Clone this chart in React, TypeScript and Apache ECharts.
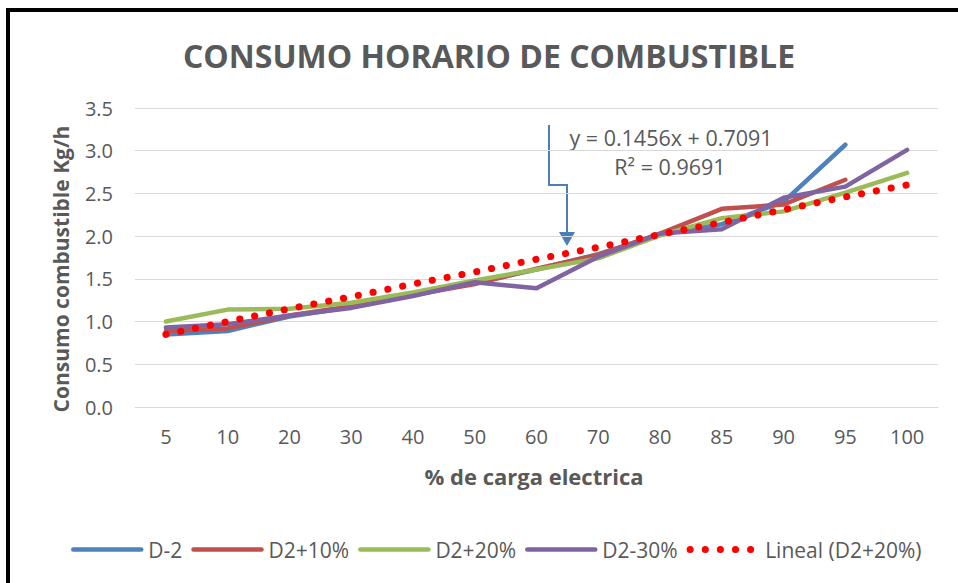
import React, { useEffect, useRef } from "react";
import * as echarts from "echarts";

const categories = ["5", "10", "20", "30", "40", "50", "60", "70", "80", "85", "90", "95", "100"];
const d2 = [0.85, 0.89, 1.06, 1.17, 1.31, 1.45, 1.61, 1.79, 2.02, 2.14, 2.4, 3.07];
const d2p10 = [0.89, 0.92, 1.07, 1.18, 1.31, 1.44, 1.62, 1.78, 2.03, 2.32, 2.37, 2.66];
const d2p20 = [1.0, 1.14, 1.15, 1.22, 1.34, 1.48, 1.61, 1.74, 2.01, 2.21, 2.29, 2.51, 2.74];
const d2m30 = [0.93, 0.97, 1.07, 1.16, 1.3, 1.46, 1.39, 1.76, 2.03, 2.08, 2.45, 2.58, 3.01];
const lineal = [0.85, 1.0, 1.15, 1.29, 1.44, 1.58, 1.73, 1.87, 2.02, 2.16, 2.31, 2.46, 2.6];
const seriesNames = ["D-2", "D2+10%", "D2+20%", "D2-30%", "Lineal (D2+20%)"];
const colors = ["#4F81BD", "#C0504D", "#9BBB59", "#8064A2", "#FF0000"];

const FONT = "'Open Sans', sans-serif";
const GRAY = "#595959";

export default function App() {
  const ref = useRef<HTMLDivElement>(null);
  useEffect(() => {
    if (!ref.current) return;
    const chart = echarts.init(ref.current, null, { renderer: "svg" });
    const datasets = [d2, d2p10, d2p20, d2m30];
    const lineSeries = datasets.map((d, i) => ({
      name: seriesNames[i],
      type: "line",
      data: d,
      symbol: "none",
      lineStyle: { color: colors[i], width: 4.5, cap: "round", join: "round" },
      itemStyle: { color: colors[i] },
      z: 2 + i,
    }));
    chart.setOption({
      animation: false,
      textStyle: { fontFamily: FONT },
      grid: { left: 135, right: 20, top: 108, bottom: 176, containLabel: false },
      legend: {
        left: 66,
        top: 534,
        itemWidth: 68,
        itemHeight: 14,
        itemGap: 9,
        itemStyle: { opacity: 0 },
        lineStyle: { width: "inherit", type: "inherit", cap: "inherit" },
        textStyle: { fontSize: 21, color: GRAY, fontFamily: FONT, padding: [0, 0, 0, 2] },
        data: seriesNames,
      },
      xAxis: {
        type: "category",
        data: categories,
        boundaryGap: true,
        axisLine: { lineStyle: { color: "#D9D9D9", width: 1 } },
        axisTick: { show: false },
        axisLabel: { fontSize: 20, color: GRAY, margin: 19, fontFamily: FONT },
      },
      yAxis: {
        type: "value",
        min: 0,
        max: 3.5,
        interval: 0.5,
        axisLine: { show: false },
        axisTick: { show: false },
        splitLine: { lineStyle: { color: "#D9D9D9", width: 1 } },
        axisLabel: {
          fontSize: 20,
          color: GRAY,
          margin: 22,
          fontFamily: FONT,
          formatter: (v: number) => v.toFixed(1),
        },
      },
      series: [
        ...lineSeries,
        {
          name: seriesNames[4],
          type: "line",
          data: lineal,
          symbol: "none",
          lineStyle: { color: colors[4], width: 7, type: [0.1, 15], cap: "round" },
          itemStyle: { color: colors[4] },
          z: 10,
        },
      ],
      graphic: [
        { type: "rect", shape: { x: 6, y: 8, width: 4, height: 600 }, style: { fill: "#000" } },
        { type: "rect", shape: { x: 6, y: 8, width: 960, height: 4 }, style: { fill: "#000" } },
        {
          type: "text",
          x: 489,
          y: 55,
          style: {
            text: "CONSUMO HORARIO DE COMBUSTIBLE",
            fontFamily: FONT,
            fontWeight: "bold",
            fontSize: 32,
            fill: GRAY,
            textAlign: "center",
            textVerticalAlign: "middle",
          },
        },
        {
          type: "text",
          x: 61,
          y: 269,
          rotation: Math.PI / 2,
          style: {
            text: "Consumo combustible Kg/h",
            fontFamily: FONT,
            fontWeight: "bold",
            fontSize: 21,
            fill: GRAY,
            textAlign: "center",
            textVerticalAlign: "middle",
          },
        },
        {
          type: "text",
          x: 534,
          y: 476,
          style: {
            text: "% de carga electrica",
            fontFamily: FONT,
            fontWeight: "bold",
            fontSize: 22,
            fill: GRAY,
            textAlign: "center",
            textVerticalAlign: "middle",
          },
        },
        {
          type: "text",
          x: 671,
          y: 137,
          style: {
            text: "y = 0.1456x + 0.7091",
            fontFamily: FONT,
            fontSize: 21.5,
            fill: GRAY,
            textAlign: "center",
            textVerticalAlign: "middle",
          },
        },
        {
          type: "text",
          x: 670,
          y: 166,
          style: {
            text: "R² = 0.9691",
            fontFamily: FONT,
            fontSize: 21.5,
            fill: GRAY,
            textAlign: "center",
            textVerticalAlign: "middle",
          },
        },
        {
          type: "polyline",
          shape: { points: [[549, 125], [549, 185], [567, 185], [567, 233]] },
          style: { stroke: "#4A7EBB", lineWidth: 2, fill: "none" },
        },
        {
          type: "polygon",
          shape: { points: [[559, 232], [575, 232], [567, 246]] },
          style: { fill: "#4A7EBB" },
        },
      ],
    });
    return () => chart.dispose();
  }, []);
  return (
    <div
      ref={ref}
      style={{ position: "fixed", left: 0, top: 0, width: 958, height: 583, background: "#fff" }}
    />
  );
}
